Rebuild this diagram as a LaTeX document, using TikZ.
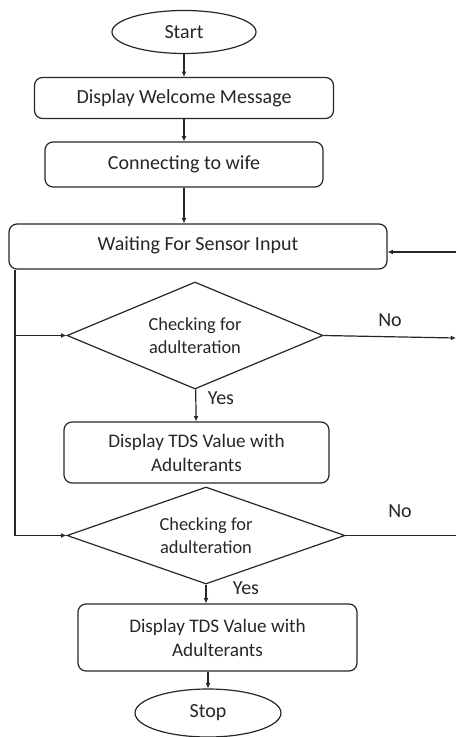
\documentclass[tikz,border=0pt]{standalone}
\usepackage{fontspec}
\setmainfont{Carlito}
\usetikzlibrary{arrows.meta,positioning,shapes.geometric}
\definecolor{ink}{HTML}{262626}
\tikzset{
  >={Latex[length=2.6pt,width=2.4pt]},
  every node/.style={font=\fontsize{10}{12}\selectfont,text=ink},
  box/.style={draw=ink,rounded corners=4pt,line width=0.6pt,align=center,inner sep=2pt},
  tdsbox/.style={box,font=\fontsize{9.6}{12}\selectfont},
  terminal/.style={draw=ink,ellipse,line width=0.6pt,inner sep=0pt},
  decision/.style={draw=ink,diamond,shape aspect=2.4,line width=0.6pt,align=center,inner sep=0pt,font=\fontsize{9.2}{11.6}\selectfont},
  arrow/.style={->,line width=0.6pt,draw=ink},
  line/.style={line width=0.6pt,draw=ink},
  label/.style={font=\fontsize{10}{12}\selectfont,inner sep=1pt},
}
\begin{document}
\begin{tikzpicture}[x=0.5pt,y=-0.5pt]
\useasboundingbox (0,0) rectangle (456,737);

\node[terminal,minimum width=72pt,minimum height=21.5pt] (start) at (184,32) {Start};
\node[box,minimum width=149.5pt,minimum height=20.5pt] (welcome) at (184,98) {Display Welcome Message};
\node[box,minimum width=139pt,minimum height=22.5pt] (wifi) at (184,164.5) {Connecting to wife};
\node[box,minimum width=189pt,minimum height=22.5pt] (wait) at (198,246.5) {\raisebox{2.5pt}{Waiting For Sensor Input}};
\node[decision,minimum width=128pt,minimum height=53.5pt] (check1) at (195,335.5) {Checking for\\adulteration};
\node[tdsbox,minimum width=132.5pt,minimum height=30.5pt] (tds1) at (196.5,452.5) {Display TDS Value with\\Adulterants};
\node[decision,minimum width=139pt,minimum height=48.5pt] (check2) at (206,535.5) {Checking for\\adulteration};
\node[tdsbox,minimum width=139.5pt,minimum height=33.5pt] (tds2) at (217.5,637.5) {Display TDS Value with\\Adulterants};
\node[terminal,minimum width=73pt,minimum height=24pt] (stop) at (208,713) {Stop};

\coordinate (back) at (456,252);
\coordinate (no1) at (456,338);
\coordinate (no2) at (456,535.5);
\coordinate (left) at (15,540);

\draw[arrow] (start) -- (welcome);
\draw[arrow] (welcome) -- (wifi);
\draw[arrow] (wifi.south) -- (wifi.south |- wait.north);
\draw[arrow] (back) -- (back -| wait.east);
\draw[line] (wait.south -| left) -- (left |- check2.west);
\draw[arrow] (left |- check1.west) -- (check1.west);
\draw[arrow] (left |- check2.west) -- (check2.west);
\draw[arrow] (check1.east) -- (no1);
\draw[arrow] (check1) -- (tds1);
\draw[line] (check2.east) -- (no2);
\draw[arrow] (check2.south) -- (check2.south |- tds2.north);
\draw[arrow] (tds2.south -| stop) -- (stop);

\node[label] (no1lbl) at (390,320) {No};
\node[label] (yes1lbl) at (221,398) {Yes};
\node[label] (no2lbl) at (400,511) {No};
\node[label] (yes2lbl) at (246,588) {Yes};

\end{tikzpicture}
\end{document}
